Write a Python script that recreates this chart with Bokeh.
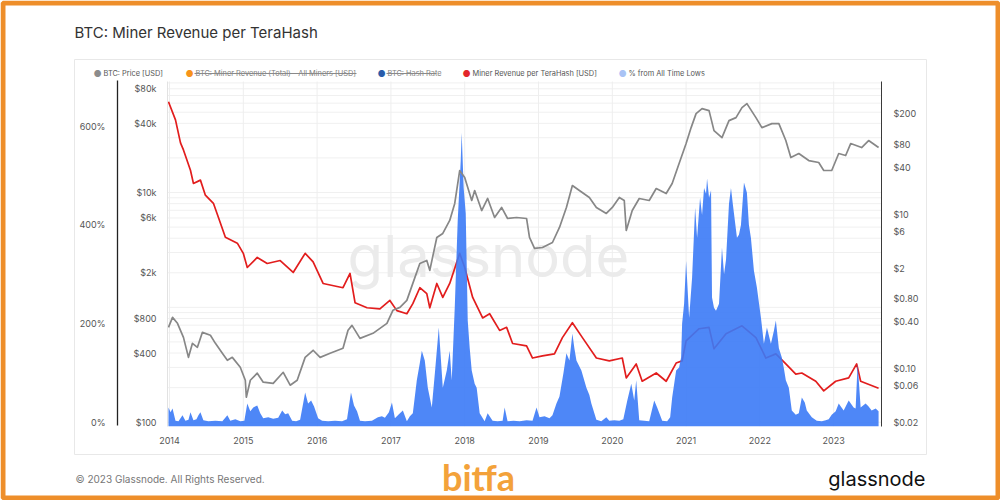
from bokeh.plotting import figure
from bokeh.models import (Range1d, LinearAxis, LogAxis, FixedTicker, Label,
                          BoxAnnotation, LogScale)
from bokeh.embed import file_html
from bokeh.resources import INLINE

# ---------------- data (decimal years) ----------------
PRICE_YEARS = [2013.986, 2014.041, 2014.108, 2014.189, 2014.257, 2014.311, 2014.378, 2014.446,
               2014.554, 2014.622, 2014.716, 2014.784, 2014.851, 2014.959, 2015.027, 2015.041,
               2015.095, 2015.189, 2015.270, 2015.405, 2015.541, 2015.635, 2015.730, 2015.838,
               2015.946, 2016.041, 2016.176, 2016.351, 2016.419, 2016.473, 2016.581, 2016.757,
               2016.946, 2017.027, 2017.122, 2017.216, 2017.297, 2017.392, 2017.486, 2017.527,
               2017.622, 2017.703, 2017.797, 2017.865, 2017.932, 2018.000, 2018.095, 2018.135,
               2018.230, 2018.311, 2018.405, 2018.500, 2018.581, 2018.703, 2018.838, 2018.878,
               2018.946, 2019.054, 2019.189, 2019.284, 2019.378, 2019.459, 2019.554, 2019.689,
               2019.784, 2019.919, 2020.000, 2020.095, 2020.162, 2020.189, 2020.270, 2020.365,
               2020.500, 2020.595, 2020.730, 2020.811, 2020.905, 2021.000, 2021.068, 2021.135,
               2021.216, 2021.311, 2021.378, 2021.486, 2021.581, 2021.676, 2021.757, 2021.824,
               2021.946, 2022.027, 2022.162, 2022.257, 2022.351, 2022.419, 2022.527, 2022.662,
               2022.797, 2022.865, 2022.973, 2023.068, 2023.162, 2023.230, 2023.378, 2023.473,
               2023.608]
BTC_PRICE = [670, 818, 726, 548, 367, 486, 449, 606,
             571, 486, 398, 346, 367, 301, 232, 165,
             232, 267, 223, 218, 272, 210, 232, 367,
             423, 367, 398, 440, 631, 697, 537, 594,
             726, 942, 1000, 1150, 1617, 2413, 2563, 2099,
             4061, 4399, 5711, 8023, 15540, 13500, 8520, 10400,
             6970, 8870, 6060, 7410, 5940, 6060, 5940, 4061,
             3260, 3320, 3670, 4960, 7410, 11500, 10400, 9050,
             7410, 6570, 7410, 9050, 8520, 4670, 6970, 8870,
             8520, 10830, 9800, 11970, 17870, 26680, 36740, 48640,
             53740, 51640, 34600, 30070, 42270, 44870, 54830, 59430,
             44870, 36740, 39810, 39810, 28340, 20150, 21850, 18970,
             18240, 15540, 15540, 21850, 20980, 26680, 24620, 28340,
             24620]

REV_YEARS = [2013.986, 2014.081, 2014.149, 2014.189, 2014.284, 2014.324, 2014.419, 2014.486,
             2014.595, 2014.662, 2014.757, 2014.919, 2015.000, 2015.054, 2015.189, 2015.324,
             2015.500, 2015.676, 2015.838, 2015.946, 2016.081, 2016.351, 2016.446, 2016.514,
             2016.676, 2016.851, 2016.986, 2017.081, 2017.216, 2017.297, 2017.392, 2017.486,
             2017.527, 2017.622, 2017.703, 2017.797, 2017.932, 2018.000, 2018.108, 2018.243,
             2018.338, 2018.473, 2018.568, 2018.649, 2018.838, 2018.919, 2019.054, 2019.216,
             2019.324, 2019.459, 2019.595, 2019.784, 2019.959, 2020.135, 2020.189, 2020.324,
             2020.405, 2020.595, 2020.730, 2020.865, 2020.946, 2021.000, 2021.176, 2021.311,
             2021.378, 2021.541, 2021.757, 2021.946, 2022.081, 2022.216, 2022.351, 2022.486,
             2022.568, 2022.757, 2022.865, 2023.027, 2023.203, 2023.311, 2023.365, 2023.608]
REV_PER_TH = [287, 167, 84, 68, 37, 25, 27.6, 17.6,
              13.8, 9.1, 5.0, 4.2, 3.1, 2.03, 2.74, 2.29,
              2.5, 1.75, 3.1, 2.4, 1.26, 1.11, 1.70, 0.71,
              0.61, 0.59, 0.76, 0.56, 0.51, 0.69, 1.11, 0.93,
              0.61, 1.26, 0.83, 1.26, 3.1, 2.03, 0.83, 0.45,
              0.51, 0.31, 0.34, 0.21, 0.195, 0.136, 0.145, 0.154,
              0.25, 0.39, 0.25, 0.136, 0.125, 0.136, 0.075, 0.114,
              0.068, 0.087, 0.068, 0.117, 0.125, 0.227, 0.326, 0.34,
              0.179, 0.28, 0.356, 0.25, 0.136, 0.154, 0.114, 0.084,
              0.087, 0.068, 0.051, 0.068, 0.075, 0.114, 0.068, 0.055]

ATL_YEARS = [2013.986, 2014.014, 2014.041, 2014.081, 2014.122, 2014.176, 2014.216, 2014.257,
             2014.284, 2014.324, 2014.365, 2014.392, 2014.419, 2014.459, 2014.527, 2014.622,
             2014.716, 2014.784, 2014.824, 2014.892, 2014.959, 2015.014, 2015.054, 2015.095,
             2015.135, 2015.189, 2015.230, 2015.270, 2015.338, 2015.405, 2015.473, 2015.527,
             2015.568, 2015.608, 2015.662, 2015.716, 2015.770, 2015.838, 2015.878, 2015.919,
             2015.959, 2016.014, 2016.068, 2016.149, 2016.243, 2016.338, 2016.405, 2016.459,
             2016.500, 2016.541, 2016.581, 2016.649, 2016.743, 2016.824, 2016.878, 2016.919,
             2016.973, 2017.014, 2017.054, 2017.108, 2017.162, 2017.216, 2017.257, 2017.297,
             2017.351, 2017.392, 2017.419, 2017.459, 2017.500, 2017.554, 2017.595, 2017.649,
             2017.703, 2017.757, 2017.797, 2017.824, 2017.865, 2017.905, 2017.946, 2017.959,
             2017.986, 2018.014, 2018.041, 2018.068, 2018.095, 2018.135, 2018.162, 2018.203,
             2018.270, 2018.311, 2018.378, 2018.446, 2018.514, 2018.541, 2018.581, 2018.662,
             2018.743, 2018.838, 2018.919, 2018.973, 2019.014, 2019.081, 2019.149, 2019.189,
             2019.243, 2019.284, 2019.338, 2019.378, 2019.419, 2019.459, 2019.486, 2019.514,
             2019.581, 2019.649, 2019.689, 2019.716, 2019.784, 2019.851, 2019.919, 2019.959,
             2020.027, 2020.095, 2020.149, 2020.203, 2020.257, 2020.297, 2020.324, 2020.365,
             2020.432, 2020.500, 2020.568, 2020.608, 2020.676, 2020.743, 2020.784, 2020.811,
             2020.865, 2020.905, 2020.932, 2020.946, 2020.973, 2021.000, 2021.041, 2021.081,
             2021.122, 2021.149, 2021.189, 2021.216, 2021.243, 2021.270, 2021.284, 2021.311,
             2021.338, 2021.351, 2021.378, 2021.405, 2021.446, 2021.486, 2021.514, 2021.541,
             2021.581, 2021.608, 2021.635, 2021.689, 2021.716, 2021.743, 2021.784, 2021.824,
             2021.851, 2021.878, 2021.919, 2021.959, 2022.014, 2022.054, 2022.095, 2022.149,
             2022.189, 2022.216, 2022.257, 2022.297, 2022.324, 2022.351, 2022.392, 2022.432,
             2022.486, 2022.527, 2022.568, 2022.608, 2022.635, 2022.703, 2022.770, 2022.838,
             2022.892, 2022.932, 2022.973, 2023.027, 2023.068, 2023.135, 2023.203, 2023.270,
             2023.297, 2023.324, 2023.365, 2023.432, 2023.473, 2023.514, 2023.568, 2023.608]
PCT_FROM_ATL = [30, 20, 28, 3, 2, 14, 3, 5,
                20, 4, 6, 14, 20, 4, 2, 3,
                2, 14, 3, 6, 2, 3, 38, 22,
                30, 34, 18, 8, 10, 7, 9, 24,
                16, 18, 3, 2, 5, 60, 38, 44,
                32, 8, 3, 2, 3, 2, 6, 60,
                34, 22, 3, 2, 3, 10, 12, 9,
                20, 40, 8, 16, 24, 2, 12, 18,
                85, 120, 145, 125, 70, 30, 98, 192,
                70, 105, 145, 85, 232, 408, 530, 587,
                475, 423, 206, 150, 105, 78, 70, 18,
                2, 18, 3, 2, 3, 30, 2, 3,
                2, 4, 3, 30, 10, 12, 8, 14,
                38, 52, 100, 140, 125, 180, 150, 125,
                105, 70, 55, 38, 5, 2, 10, 3,
                4, 3, 6, 44, 78, 44, 85, 4,
                3, 2, 44, 30, 3, 2, 10, 50,
                105, 111, 131, 200, 240, 327, 212, 293,
                435, 374, 455, 420, 475, 463, 494, 455,
                470, 253, 232, 226, 240, 354, 300, 330,
                443, 475, 440, 374, 380, 400, 486, 465,
                400, 374, 307, 273, 212, 159, 192, 159,
                185, 206, 150, 131, 110, 85, 70, 24,
                15, 18, 50, 40, 24, 10, 3, 2,
                4, 6, 15, 22, 38, 24, 44, 30,
                28, 119, 30, 38, 32, 24, 28, 22]

YEAR_TICKS = [2014, 2015, 2016, 2017, 2018, 2019, 2020, 2021, 2022, 2023]
PCT_TICKS = [0, 200, 400, 600]
PCT_LABELS = ["0%", "200%", "400%", "600%"]
PRICE_TICKS = [100, 400, 800, 2000, 6000, 10000, 40000, 80000]
PRICE_LABELS = ["$100", "$400", "$800", "$2k", "$6k", "$10k", "$40k", "$80k"]
REV_TICKS = [0.02, 0.06, 0.1, 0.4, 0.8, 2, 6, 10, 40, 80, 200]
REV_LABELS = ["$0.02", "$0.06", "$0.10", "$0.40", "$0.80", "$2", "$6", "$10", "$40", "$80", "$200"]
GRID_PRICES = [100, 200, 300, 400, 500, 600, 700, 800, 900,
               1000, 2000, 3000, 4000, 5000, 6000, 7000, 8000, 9000,
               10000, 20000, 30000, 40000, 50000, 60000, 70000, 80000, 90000]

TITLE = "BTC: Miner Revenue per TeraHash"
LEGEND_NAMES = ["BTC: Price [USD]", "BTC: Miner Revenue (Total) - All Miners [USD]",
                "BTC: Hash Rate", "Miner Revenue per TeraHash [USD]", "% from All Time Lows"]
LEGEND_COLORS = ["#8c8c8c", "#f7931a", "#2a5caa", "#e3262a", "#a9c3f5"]
FOOTER = "\u00a9 2023 Glassnode. All Rights Reserved."

# ---------------- ranges: the whole 1000x500 canvas is the frame ----------------
X_FULL = (2011.710, 2025.260)          # canvas x 0 .. 1000
PCT_FULL = (-158.7, 854.9)             # canvas y 500 .. 0
PRICE_FULL = (20.81, 469600)
REV_FULL = (0.00193, 5896)
# plot area (canvas 167..881 x 81..425.7)
PLOT_X = (2013.973, 2023.648)
PCT_PLOT = (-8.11, 690.7)
PRICE_PLOT = (92.3, 92580)
REV_PLOT = (0.01774, 524.8)
PCT_AXIS_AT = 2013.295                 # the black percent axis line

FONT = "Inter"
TXT = "#555555"

p = figure(width=1000, height=500, output_backend="svg", toolbar_location=None,
           title=None, x_range=Range1d(*X_FULL), y_range=Range1d(*PCT_FULL),
           x_axis_location=None, y_axis_location=None, min_border=0)
p.min_border_left = p.min_border_right = p.min_border_top = p.min_border_bottom = 0
p.extra_y_ranges = {"price": Range1d(*PRICE_FULL), "rev": Range1d(*REV_FULL)}
p.extra_y_scales = {"price": LogScale(), "rev": LogScale()}
p.outline_line_color = None
p.background_fill_color = "white"
p.border_fill_color = "white"
p.xgrid.visible = False
p.ygrid.visible = False

# faint grid lines inside the plot area
p.segment(x0=PLOT_X[0], x1=PLOT_X[1], y0=GRID_PRICES, y1=GRID_PRICES, y_range_name="price",
          line_color="#f0f0f0", line_width=1, level="underlay")
p.segment(x0=YEAR_TICKS, x1=YEAR_TICKS, y0=PCT_PLOT[0], y1=PCT_PLOT[1],
          line_color="#eeeeee", line_width=1, level="underlay")

# watermark
p.add_layout(Label(x=488, y=255, x_units="canvas", y_units="canvas", text="glassnode",
                   text_font=FONT, text_font_size="58px", text_color="#ebebeb",
                   text_align="center", text_baseline="middle", level="underlay"))

# axes (fixed inside the canvas)
def style_axis(ax):
    ax.major_tick_line_color = None
    ax.minor_tick_line_color = None
    ax.major_tick_out = 0
    ax.major_tick_in = 0
    ax.minor_tick_out = 0
    ax.minor_tick_in = 0
    ax.major_label_text_font = FONT
    ax.major_label_text_font_size = "9px"
    ax.major_label_text_color = TXT

price_ax = LogAxis(y_range_name="price", ticker=FixedTicker(ticks=PRICE_TICKS),
                   major_label_overrides=dict(zip(PRICE_TICKS, PRICE_LABELS)),
                   fixed_location=PLOT_X[0], bounds=PRICE_PLOT)
style_axis(price_ax)
price_ax.axis_line_color = "#e2e2e2"
price_ax.major_label_standoff = 11
p.add_layout(price_ax, "left")

pct_ax = LinearAxis(ticker=FixedTicker(ticks=PCT_TICKS),
                    major_label_overrides=dict(zip(PCT_TICKS, PCT_LABELS)),
                    fixed_location=PCT_AXIS_AT, bounds=(-6.7, 692.7))
style_axis(pct_ax)
pct_ax.axis_line_color = "#222222"
pct_ax.axis_line_width = 1.3
pct_ax.major_label_standoff = 12
p.add_layout(pct_ax, "left")

rev_ax = LogAxis(y_range_name="rev", ticker=FixedTicker(ticks=REV_TICKS),
                 major_label_overrides=dict(zip(REV_TICKS, REV_LABELS)),
                 fixed_location=PLOT_X[1], bounds=REV_PLOT)
style_axis(rev_ax)
rev_ax.axis_line_color = "#3a3a3a"
rev_ax.axis_line_width = 1
rev_ax.major_label_standoff = 12
p.add_layout(rev_ax, "right")

x_ax = LinearAxis(ticker=FixedTicker(ticks=YEAR_TICKS), fixed_location=PCT_PLOT[0],
                  bounds=PLOT_X)
style_axis(x_ax)
x_ax.axis_line_color = None
x_ax.major_label_standoff = 11
p.add_layout(x_ax, "below")

# series
p.line(REV_YEARS, REV_PER_TH, y_range_name="rev", line_color="#e21d1d", line_width=1.7,
       line_join="round")
p.varea(x=ATL_YEARS, y1=PCT_PLOT[0], y2=PCT_FROM_ATL, fill_color="#3b7af6", fill_alpha=0.9)
p.line(PRICE_YEARS, BTC_PRICE, y_range_name="price", line_color="#878787", line_width=1.7,
       line_join="round")

# ---------------- page decorations (canvas pixel units) ----------------
def box(l, r, t, b, **kw):
    p.add_layout(BoxAnnotation(left=l, right=r, top=t, bottom=b,
                               left_units="canvas", right_units="canvas",
                               top_units="canvas", bottom_units="canvas", **kw))

box(2.5, 997.5, 2.5, 497.5, fill_color=None, line_color="#ee8e2a", line_alpha=1,
    line_width=5)
box(74, 926, 59, 454, fill_color=None, line_color="#e8e8e8", line_alpha=1, line_width=1)

def text(x, y, s, size, color, **kw):
    p.add_layout(Label(x=x, y=y, x_units="canvas", y_units="canvas", text=s,
                       text_font=kw.pop("font", FONT), text_font_size=size,
                       text_color=color, text_baseline="middle", **kw))

text(74, 32, TITLE, "15px", "#333333")

LEGEND_DOT_X = [97, 189, 381, 466, 622]
LEGEND_OFF = [False, True, True, False, False]
for name, col, dx, off in zip(LEGEND_NAMES, LEGEND_COLORS, LEGEND_DOT_X, LEGEND_OFF):
    text(dx, 73, "\u25cf", "9px", col, text_align="center")
    text(dx + 6, 73, name, "7.4px", "#808080" if off else TXT)
for l, r in [(194, 356), (386, 436)]:
    box(l, r, 72.5, 73.5, fill_color="#8a8a8a", fill_alpha=1, line_color=None)

text(75, 478, FOOTER, "10px", "#777777")
text(925, 478, "glassnode", "20px", "#111111", text_align="right")
text(478, 476, "bitfa", "36px", "#f3a23a", font="Lato", text_font_style="bold",
     text_align="center")

open("out.html", "w").write(file_html(p, INLINE))
